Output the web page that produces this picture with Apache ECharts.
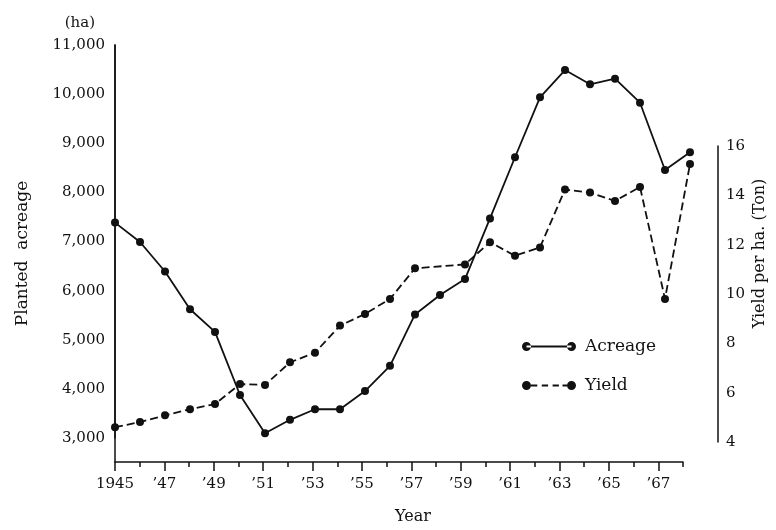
<!DOCTYPE html>
<html>
<head>
<meta charset="utf-8">
<script src="https://cdn.jsdelivr.net/npm/echarts@6/dist/echarts.min.js"></script>
<style>
  html, body { margin: 0; padding: 0; background: #fff; }
  #chart { width: 776px; height: 530px; }
</style>
</head>
<body>
<div id="chart"></div>
<script>
const years = ['1945', '1946', '1947', '1948', '1949', '1950', '1951', '1952', '1953', '1954', '1955', '1956',
  '1957', '1958', '1959', '1960', '1961', '1962', '1963', '1964', '1965', '1966', '1967', '1968']
// planted acreage (ha)
const acreage = [7385, 6990, 6390, 5620, 5160, 3875, 3095, 3370, 3585, 3585, 3955, 4470,
  5515, 5910, 6235, 7470, 8715, 9935, 10490, 10200, 10315, 9825, 8455, 8815]
// yield per ha (ton), no point for 1958
const yieldPerHa = [4.6, 4.81, 5.08, 5.33, 5.54, 6.35, 6.31, 7.23, 7.62, 8.72, 9.19, 9.8,
  11.04, null, 11.2, 12.1, 11.55, 11.89, 14.24, 14.11, 13.77, 14.34, 9.8, 15.27]
const acreageTicks = { min: 3000, max: 11000, step: 1000 }
const yieldTicks = { min: 4, max: 16, step: 2 }

const ink = '#111'
const font = 'DejaVu Serif'
const chart = echarts.init(document.getElementById('chart'))

// legend keys: a dot at each end of the line
const solidIcon = 'path://M0,5a5,5 0 1,0 10,0a5,5 0 1,0 -10,0Z M50,5a5,5 0 1,0 10,0a5,5 0 1,0 -10,0Z M5,4H55V6H5Z'
const dashIcon = 'path://M0,5a5,5 0 1,0 10,0a5,5 0 1,0 -10,0Z M50,5a5,5 0 1,0 10,0a5,5 0 1,0 -10,0Z' +
  ' M10,4H17V6H10Z M22,4H29V6H22Z M34,4H41V6H34Z M45,4H50V6H45Z'

const lineCol = { color: ink, width: 1.5 }
const hiddenX = gridIndex => ({
  type: 'category', gridIndex, data: years, boundaryGap: false, show: false
})

function withComma (v) {
  return String(v).replace(/\B(?=(\d{3})+(?!\d))/g, ',')
}

const option = {
  backgroundColor: '#fff',
  animation: false,
  textStyle: { fontFamily: font, color: ink },
  grid: [
    { left: 115, top: 45, width: 575, height: 418 },
    { left: 115, top: 45, width: 575, height: 393 },
    { left: 115, top: 146, width: 575, height: 296 }
  ],
  legend: {
    orient: 'vertical',
    left: 517,
    top: 333,
    itemWidth: 54,
    itemHeight: 9,
    itemGap: 22,
    textStyle: { fontFamily: font, fontSize: 17, color: ink, padding: [0, 0, 0, 4] },
    data: [{ name: 'Acreage', icon: solidIcon }, { name: 'Yield', icon: dashIcon }]
  },
  xAxis: [
    {
      type: 'category',
      gridIndex: 0,
      position: 'bottom',
      data: years,
      boundaryGap: false,
      name: 'Year',
      nameLocation: 'middle',
      nameGap: 47,
      nameTextStyle: { fontFamily: font, fontSize: 16, color: ink, padding: [0, 0, 0, 28] },
      axisLine: { lineStyle: lineCol },
      axisTick: { interval: i => i % 2 === 0, length: 9, lineStyle: lineCol },
      axisLabel: {
        interval: i => i % 2 === 0,
        margin: 15,
        fontFamily: font,
        fontSize: 15,
        color: ink,
        formatter: v => v === '1945' ? v : '\u2019' + v.slice(2)
      }
    },
    {
      type: 'category',
      gridIndex: 0,
      position: 'bottom',
      data: years,
      boundaryGap: false,
      axisLine: { show: false },
      axisTick: { interval: 0, length: 5, lineStyle: lineCol },
      axisLabel: { show: false }
    },
    hiddenX(1),
    hiddenX(2)
  ],
  yAxis: [
    {
      type: 'value',
      gridIndex: 0,
      position: 'left',
      min: 0,
      max: 1,
      name: 'Planted  acreage',
      nameLocation: 'middle',
      nameGap: 84,
      nameTextStyle: { fontFamily: font, fontSize: 17, color: ink },
      axisLine: { show: true, lineStyle: lineCol },
      axisTick: { show: false },
      axisLabel: { show: false },
      splitLine: { show: false }
    },
    {
      type: 'value',
      gridIndex: 0,
      position: 'right',
      min: 0,
      max: 1,
      name: 'Yield per ha. (Ton)',
      nameLocation: 'middle',
      nameGap: 69,
      nameTextStyle: { fontFamily: font, fontSize: 16, color: ink, padding: [0, 0, 8, 0] },
      axisLine: { show: false },
      axisTick: { show: false },
      axisLabel: { show: false },
      splitLine: { show: false }
    },
    {
      type: 'value',
      gridIndex: 1,
      position: 'left',
      min: acreageTicks.min,
      max: acreageTicks.max,
      interval: acreageTicks.step,
      name: '(ha)',
      nameLocation: 'end',
      nameGap: 14,
      nameTextStyle: { fontFamily: font, fontSize: 15, color: ink, align: 'right', verticalAlign: 'bottom', padding: [0, 20, 0, 0] },
      axisLine: { show: true, lineStyle: lineCol },
      axisTick: { length: 7, lineStyle: lineCol },
      axisLabel: { margin: 10, fontFamily: font, fontSize: 15, color: ink, formatter: withComma },
      splitLine: { show: false }
    },
    {
      type: 'value',
      gridIndex: 2,
      position: 'right',
      offset: 28,
      min: yieldTicks.min,
      max: yieldTicks.max,
      interval: yieldTicks.step,
      axisLine: { show: true, lineStyle: lineCol },
      axisTick: { length: 6, lineStyle: lineCol },
      axisLabel: { margin: 8, fontFamily: font, fontSize: 15, color: ink },
      splitLine: { show: false }
    }
  ],
  series: [
    {
      name: 'Acreage',
      type: 'line',
      xAxisIndex: 2,
      yAxisIndex: 2,
      data: acreage,
      symbol: 'circle',
      symbolSize: 8,
      itemStyle: { color: ink },
      lineStyle: { color: ink, width: 1.8, type: 'solid' }
    },
    {
      name: 'Yield',
      type: 'line',
      xAxisIndex: 3,
      yAxisIndex: 3,
      data: yieldPerHa,
      connectNulls: true,
      symbol: 'circle',
      symbolSize: 8,
      itemStyle: { color: ink },
      lineStyle: { color: ink, width: 1.8, type: [8, 4] }
    }
  ]
}

chart.setOption(option)
</script>
</body>
</html>
